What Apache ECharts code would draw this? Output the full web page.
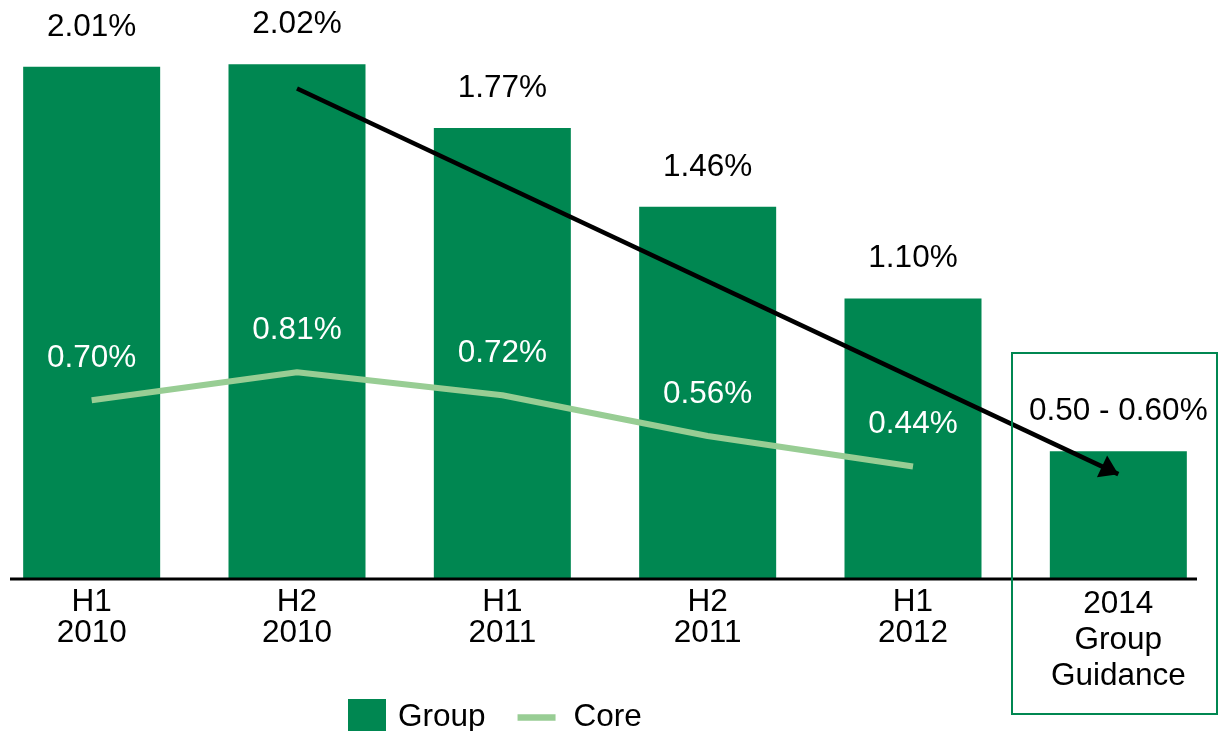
<!DOCTYPE html>
<html>
<head>
<meta charset="utf-8">
<script src="https://cdn.jsdelivr.net/npm/echarts@6/dist/echarts.min.js"></script>
<style>
  html, body { margin: 0; padding: 0; background: #fff; }
  #chart { width: 1224px; height: 731px; }
</style>
</head>
<body>
<div id="chart"></div>
<script>
// data
var categories = ['H1\n2010', 'H2\n2010', 'H1\n2011', 'H2\n2011', 'H1\n2012', '2014\nGroup\nGuidance'];
var groupValues = [2.01, 2.02, 1.77, 1.46, 1.10, 0.50];
var coreValues = [0.70, 0.81, 0.72, 0.56, 0.44, null];
var guidanceRange = [0.50, 0.60];
// arrow annotation: [category index, value]
var arrowFrom = [1, 1.925];
var arrowTo = [5, 0.41];

var GREEN = '#008751';
var LIGHT = '#98cd94';
var FONT = 'Arial, "Liberation Sans", sans-serif';
var FS = 31.5;

// arrow head whose tip sits at the symbol centre (empty top half)
var ARROW_HEAD = 'path://M12,0 L12,0 M12,18 L24,36 L0,36 Z';

var chart = echarts.init(document.getElementById('chart'));

var axisData = categories.map(function (c, i) {
  // the guidance label is spaced a little wider in the original
  if (i === categories.length - 1) {
    return { value: c, textStyle: { lineHeight: 36 } };
  }
  return c;
});

var option = {
  animation: false,
  textStyle: { fontFamily: FONT },
  grid: { left: -11, width: 1232, top: 18.5, bottom: 152.5, outerBoundsMode: 'none', containLabel: false },
  legend: {
    left: 343,
    top: 694,
    itemWidth: 38,
    itemHeight: 37,
    itemGap: 32,
    textStyle: { fontSize: FS, color: '#000', fontFamily: FONT, padding: [0, 0, 0, 7] },
    data: [
      { name: 'Group', icon: 'rect' },
      {
        name: 'Core',
        icon: 'path://M0,0 H42 V7 H0 Z',
        itemStyle: { color: LIGHT },
        textStyle: { fontSize: FS, color: '#000', fontFamily: FONT, padding: [0, 0, 0, 13] }
      }
    ]
  },
  xAxis: {
    type: 'category',
    data: axisData,
    axisLine: { show: false },
    axisTick: { show: false },
    axisLabel: { color: '#000', fontSize: FS, lineHeight: 31.5, margin: 8, fontFamily: FONT, interval: 0 }
  },
  yAxis: {
    type: 'value',
    min: 0,
    max: 2.2,
    show: false,
    splitLine: { show: false }
  },
  series: [
    {
      name: 'Group',
      type: 'bar',
      data: groupValues,
      barWidth: 137,
      itemStyle: { color: GREEN },
      label: {
        show: true,
        position: 'top',
        distance: 24,
        color: '#000',
        fontSize: FS,
        fontFamily: FONT,
        formatter: function (p) {
          if (p.dataIndex === groupValues.length - 1) {
            return guidanceRange[0].toFixed(2) + ' - ' + guidanceRange[1].toFixed(2) + '%';
          }
          return p.value.toFixed(2) + '%';
        }
      },
      markLine: {
        silent: true,
        symbol: ['none', ARROW_HEAD],
        symbolSize: [24, 36],
        label: { show: false },
        lineStyle: { color: '#000', width: 4.5, type: 'solid', opacity: 1 },
        itemStyle: { color: '#000' },
        data: [[{ coord: arrowFrom }, { coord: arrowTo }]]
      }
    },
    {
      name: 'Core',
      type: 'line',
      data: coreValues,
      symbol: 'circle',
      symbolSize: 0.1,
      showSymbol: true,
      lineStyle: { color: LIGHT, width: 6 },
      itemStyle: { color: LIGHT },
      label: {
        show: true,
        position: 'top',
        distance: 26,
        color: '#fff',
        fontSize: FS,
        fontFamily: FONT,
        formatter: function (p) { return p.value.toFixed(2) + '%'; }
      },
      z: 3
    }
  ],
  graphic: [
    {
      type: 'line',
      shape: { x1: 10, y1: 579, x2: 1197, y2: 579 },
      style: { stroke: '#000', lineWidth: 3 },
      z: 10
    },
    {
      type: 'rect',
      shape: { x: 1012, y: 353, width: 205, height: 361 },
      style: { fill: 'none', stroke: GREEN, lineWidth: 2 },
      z: 10
    }
  ]
};

chart.setOption(option);
</script>
</body>
</html>
